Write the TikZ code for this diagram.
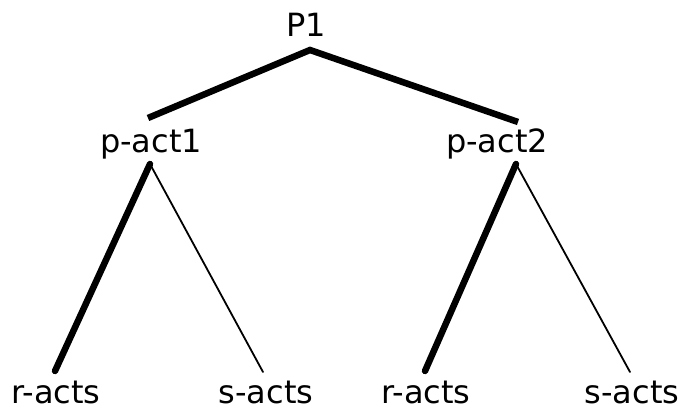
\documentclass[tikz,border=0pt]{standalone}
\usepackage{fontspec}
\setmainfont{DejaVu Sans}
\begin{document}
\begin{tikzpicture}[x=1pt,y=-1pt,
  lbl/.style={anchor=base,inner sep=0pt,font=\fontsize{32}{36}\selectfont},
  leaf/.style={lbl,text depth=0pt},
  heavy/.style={line width=6.5pt,line cap=round},
  light/.style={line width=1.8pt,line cap=round}]
\useasboundingbox (0,0) rectangle (681,411);
\node[lbl] (P1) at (306,37) {P1};
\node[lbl] (pa1) at (151,153) {p-act1};
\node[lbl] (pa2) at (497,153) {p-act2};
\node[leaf] (r1) at (56,404) {r-acts};
\node[leaf] (s1) at (266,404) {s-acts};
\node[leaf] (r2) at (426,404) {r-acts};
\node[leaf] (s2) at (632,404) {s-acts};
% connector end points
\coordinate (P1b) at (310,50);
\coordinate (pa1t) at (148,118);
\coordinate (pa2t) at (518,122);
\coordinate (pa1b) at (150,164);
\coordinate (pa2b) at (516,164);
\coordinate (r1t) at (55,371);
\coordinate (s1t) at (263,372);
\coordinate (r2t) at (425,371);
\coordinate (s2t) at (630,372);
\draw[heavy,line cap=butt] (pa1t) -- (P1b) -- (pa2t);
\draw[heavy] (pa1b) -- (r1t);
\draw[light] (pa1b) -- (s1t);
\draw[heavy] (pa2b) -- (r2t);
\draw[light] (pa2b) -- (s2t);
\end{tikzpicture}
\end{document}
